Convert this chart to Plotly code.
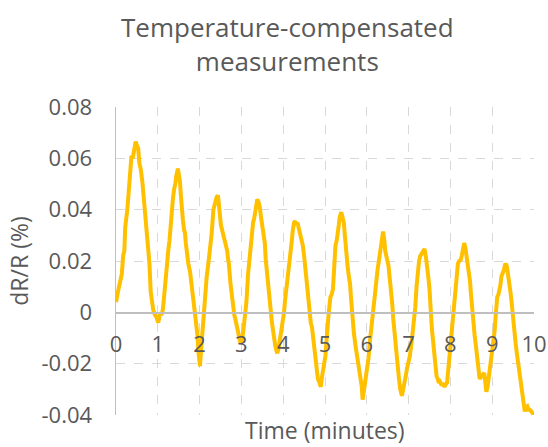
import plotly.graph_objects as go

time_min = [
    0.00, 0.03, 0.06, 0.10, 0.14, 0.17, 0.20, 0.22, 0.25, 0.27, 0.30, 0.32, 0.35, 0.37, 0.40, 0.43, 0.47, 0.50,
    0.53, 0.56, 0.59, 0.63, 0.66, 0.68, 0.71, 0.73, 0.77, 0.80, 0.83, 0.86, 0.89, 0.93, 0.97, 1.01, 1.03, 1.06,
    1.09, 1.12, 1.15, 1.17, 1.21, 1.25, 1.28, 1.31, 1.33, 1.36, 1.39, 1.42, 1.44, 1.48, 1.51, 1.53, 1.55, 1.57,
    1.60, 1.63, 1.65, 1.67, 1.70, 1.73, 1.77, 1.80, 1.83, 1.86, 1.89, 1.92, 1.95, 1.97, 1.99, 2.01, 2.03, 2.05,
    2.08, 2.10, 2.13, 2.17, 2.21, 2.25, 2.29, 2.33, 2.37, 2.41, 2.44, 2.46, 2.48, 2.51, 2.54, 2.57, 2.60, 2.63,
    2.66, 2.68, 2.70, 2.74, 2.77, 2.80, 2.83, 2.86, 2.89, 2.92, 2.95, 2.98, 3.01, 3.04, 3.08, 3.12, 3.16, 3.19,
    3.22, 3.25, 3.28, 3.31, 3.33, 3.36, 3.38, 3.41, 3.44, 3.47, 3.49, 3.53, 3.56, 3.58, 3.60, 3.63, 3.65, 3.68,
    3.70, 3.73, 3.76, 3.79, 3.81, 3.84, 3.86, 3.89, 3.92, 3.96, 4.00, 4.02, 4.04, 4.08, 4.12, 4.16, 4.20, 4.23,
    4.26, 4.29, 4.31, 4.34, 4.37, 4.40, 4.42, 4.45, 4.47, 4.50, 4.53, 4.56, 4.59, 4.62, 4.66, 4.69, 4.71, 4.74,
    4.77, 4.80, 4.83, 4.86, 4.90, 4.93, 4.96, 5.01, 5.04, 5.06, 5.09, 5.13, 5.16, 5.19, 5.22, 5.25, 5.28, 5.30,
    5.33, 5.35, 5.39, 5.42, 5.45, 5.48, 5.51, 5.54, 5.57, 5.60, 5.62, 5.64, 5.66, 5.69, 5.73, 5.76, 5.78, 5.81,
    5.85, 5.88, 5.90, 5.93, 5.97, 6.00, 6.04, 6.07, 6.10, 6.13, 6.16, 6.19, 6.23, 6.26, 6.28, 6.31, 6.34, 6.37,
    6.39, 6.42, 6.44, 6.48, 6.52, 6.55, 6.58, 6.61, 6.63, 6.66, 6.68, 6.71, 6.74, 6.77, 6.80, 6.84, 6.87, 6.90,
    6.93, 6.96, 7.00, 7.03, 7.07, 7.11, 7.14, 7.16, 7.19, 7.22, 7.25, 7.28, 7.31, 7.34, 7.38, 7.41, 7.44, 7.47,
    7.50, 7.51, 7.54, 7.56, 7.59, 7.61, 7.64, 7.67, 7.70, 7.72, 7.75, 7.78, 7.82, 7.86, 7.89, 7.92, 7.94, 7.96,
    7.99, 8.02, 8.05, 8.07, 8.10, 8.12, 8.15, 8.18, 8.21, 8.25, 8.27, 8.29, 8.31, 8.33, 8.36, 8.38, 8.41, 8.44,
    8.47, 8.49, 8.51, 8.53, 8.56, 8.58, 8.61, 8.64, 8.67, 8.70, 8.73, 8.76, 8.79, 8.81, 8.84, 8.86, 8.89, 8.92,
    8.95, 8.98, 9.01, 9.04, 9.06, 9.08, 9.10, 9.12, 9.15, 9.18, 9.20, 9.22, 9.25, 9.28, 9.30, 9.32, 9.35, 9.38,
    9.41, 9.44, 9.47, 9.50, 9.53, 9.56, 9.59, 9.62, 9.65, 9.68, 9.71, 9.74, 9.76, 9.78, 9.81, 9.84, 9.87, 9.90,
    9.93, 9.95, 9.98, 10.00,
]

dr_over_r = [
    0.004, 0.008, 0.009, 0.012, 0.015, 0.022, 0.024, 0.033, 0.036, 0.040, 0.046, 0.050, 0.058, 0.061, 0.060, 0.064, 0.0665, 0.065,
    0.064, 0.058, 0.056, 0.051, 0.045, 0.040, 0.034, 0.030, 0.026, 0.019, 0.008, 0.004, 0.001, -0.001, -0.002, -0.004, -0.001, 0.000,
    -0.001, 0.001, 0.006, 0.010, 0.020, 0.024, 0.028, 0.036, 0.042, 0.044, 0.048, 0.050, 0.053, 0.056, 0.053, 0.051, 0.046, 0.040,
    0.036, 0.032, 0.031, 0.027, 0.022, 0.019, 0.016, 0.012, 0.006, 0.003, -0.002, -0.005, -0.009, -0.015, -0.020, -0.021, -0.016, -0.011,
    -0.004, 0.001, 0.008, 0.014, 0.019, 0.024, 0.031, 0.040, 0.043, 0.045, 0.0455, 0.041, 0.036, 0.034, 0.032, 0.029, 0.028, 0.026,
    0.024, 0.021, 0.019, 0.011, 0.006, 0.001, -0.001, -0.003, -0.006, -0.008, -0.010, -0.012, -0.011, -0.008, -0.002, 0.004, 0.015, 0.021,
    0.027, 0.031, 0.035, 0.037, 0.040, 0.042, 0.044, 0.043, 0.041, 0.037, 0.035, 0.031, 0.027, 0.021, 0.017, 0.012, 0.009, 0.004,
    0.001, -0.004, -0.008, -0.011, -0.013, -0.015, -0.016, -0.014, -0.011, -0.008, -0.004, 0.000, 0.004, 0.009, 0.015, 0.021, 0.027, 0.032,
    0.035, 0.0355, 0.034, 0.035, 0.033, 0.031, 0.029, 0.028, 0.026, 0.022, 0.017, 0.011, 0.006, 0.001, -0.004, -0.006, -0.009, -0.015,
    -0.020, -0.023, -0.026, -0.027, -0.029, -0.025, -0.022, -0.017, -0.010, -0.004, 0.000, 0.006, 0.007, 0.009, 0.018, 0.026, 0.028, 0.032,
    0.034, 0.037, 0.039, 0.037, 0.035, 0.029, 0.022, 0.018, 0.014, 0.011, 0.006, 0.001, -0.004, -0.008, -0.013, -0.016, -0.020, -0.023,
    -0.027, -0.029, -0.034, -0.031, -0.027, -0.023, -0.018, -0.012, -0.007, -0.002, 0.004, 0.009, 0.014, 0.017, 0.019, 0.023, 0.027, 0.030,
    0.0315, 0.028, 0.024, 0.021, 0.018, 0.013, 0.009, 0.003, -0.002, -0.008, -0.012, -0.017, -0.022, -0.026, -0.030, -0.0325, -0.030, -0.028,
    -0.025, -0.022, -0.019, -0.017, -0.012, -0.007, -0.002, 0.002, 0.010, 0.017, 0.020, 0.022, 0.023, 0.024, 0.0247, 0.022, 0.019, 0.014,
    0.009, 0.004, -0.002, -0.007, -0.012, -0.017, -0.021, -0.025, -0.026, -0.0275, -0.027, -0.028, -0.028, -0.029, -0.028, -0.0275, -0.024, -0.020,
    -0.017, -0.012, -0.006, 0.001, 0.007, 0.011, 0.015, 0.019, 0.020, 0.0205, 0.022, 0.024, 0.026, 0.027, 0.025, 0.023, 0.020, 0.0165,
    0.012, 0.0075, 0.003, -0.002, -0.006, -0.009, -0.013, -0.017, -0.021, -0.026, -0.025, -0.025, -0.024, -0.0236, -0.028, -0.031, -0.029, -0.025,
    -0.021, -0.017, -0.015, -0.012, -0.007, -0.002, 0.002, 0.006, 0.007, 0.009, 0.011, 0.014, 0.015, 0.0165, 0.018, 0.019, 0.018, 0.015,
    0.011, 0.0075, 0.003, -0.003, -0.007, -0.012, -0.016, -0.020, -0.023, -0.0275, -0.031, -0.035, -0.037, -0.0386, -0.037, -0.0366, -0.038, -0.038,
    -0.0385, -0.039, -0.0395, -0.040,
]

title_text = "Temperature-compensated<br>measurements"
x_title = "Time (minutes)"
y_title = "dR/R (%)"
x_ticks = list(range(0, 11))
y_ticks = [-0.04, -0.02, 0, 0.02, 0.04, 0.06, 0.08]
y_tick_labels = ["-0.04", "-0.02", "0", "0.02", "0.04", "0.06", "0.08"]

y_min, y_max = -0.04, 0.08
text_color = "#595959"
font_family = "Open Sans, Lato, sans-serif"

fig = go.Figure()
fig.add_trace(go.Scatter(
    x=time_min, y=dr_over_r, mode="lines",
    line=dict(color="#FFC000", width=4),
    showlegend=False, hoverinfo="skip",
))

fig.update_layout(
    width=548, height=447,
    margin=dict(l=116, r=14, t=107, b=32, autoexpand=False),
    paper_bgcolor="white", plot_bgcolor="white",
    font=dict(family=font_family, color=text_color, size=22),
    xaxis=dict(
        range=[0, 10], tickvals=x_ticks, ticktext=[str(v) for v in x_ticks],
        anchor="free", position=(0 - y_min) / (y_max - y_min),
        showgrid=True, gridcolor="#d9d9d9", griddash="dash", gridwidth=1,
        showline=True, linecolor="#bfbfbf", linewidth=1.5,
        zeroline=False, automargin=False,
        ticks="outside", ticklen=12, tickcolor="rgba(0,0,0,0)",
        tickfont=dict(size=22, color=text_color),
    ),
    yaxis=dict(
        range=[y_min, y_max], tickvals=y_ticks, ticktext=y_tick_labels,
        showgrid=True, gridcolor="#d9d9d9", griddash="dash", gridwidth=1,
        showline=True, linecolor="#bfbfbf", linewidth=1.5,
        zeroline=False, automargin=False,
        ticks="outside", ticklen=18, tickcolor="rgba(0,0,0,0)",
        tickfont=dict(size=22, color=text_color),
        title=dict(text=y_title, font=dict(size=23, color=text_color), standoff=6),
    ),
    annotations=[
        dict(
            text=title_text, xref="paper", yref="paper",
            x=(287 - 116) / (534 - 116), y=1.205,
            xanchor="center", yanchor="middle", showarrow=False,
            font=dict(size=26, color=text_color),
        ),
        dict(
            text=x_title, xref="paper", yref="paper", x=0.5, y=-0.05,
            xanchor="center", yanchor="middle", showarrow=False, borderpad=0,
            font=dict(size=23, color=text_color),
        ),
    ],
)

fig.write_html(
    "out.html",
    config={"displayModeBar": False, "staticPlot": True},
    post_script="document.body.style.margin='0';document.body.style.overflow='hidden';",
)
